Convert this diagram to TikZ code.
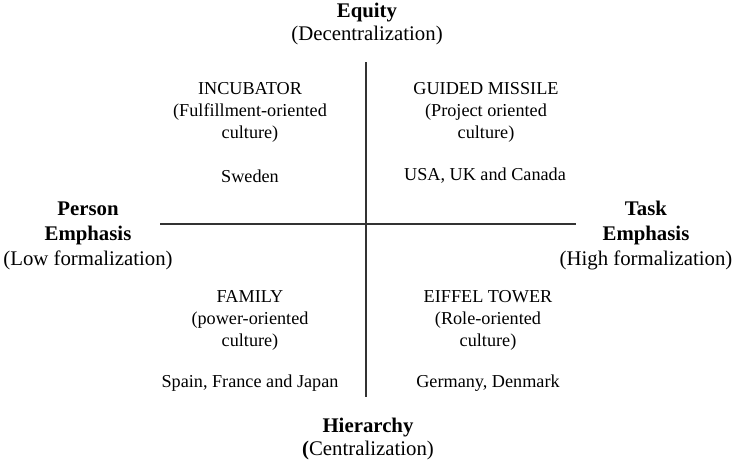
\documentclass[tikz,border=0pt]{standalone}
\usepackage{fontspec}
\setmainfont{Liberation Serif}

\begin{document}
\begin{tikzpicture}[x=1pt,y=-1pt,
  axislabel/.style={align=center,inner sep=0pt,font=\fontsize{20.8}{25}\selectfont},
  polelabel/.style={align=center,inner sep=0pt,font=\fontsize{20.8}{22.5}\selectfont},
  quadtext/.style={align=center,inner sep=0pt,font=\fontsize{18.2}{22}\selectfont}]
    \useasboundingbox (0,0) rectangle (736,463);
    % axes
    \coordinate (top) at (366,62);
    \coordinate (bottom) at (366,397);
    \coordinate (left) at (160,224);
    \coordinate (right) at (576,224);
    \draw[black!80,line width=1.6pt] (top) -- (bottom);
    \draw[black!80,line width=1.6pt] (left) -- (right);
    % pole labels
    \node[polelabel] (equity) at (367,24) {\textbf{Equity}\\(Decentralization)};
    \node[polelabel] (hierarchy) at (368,439) {\textbf{Hierarchy}\\\textbf{(}Centralization)};
    \node[axislabel] (person) at (88,236) {\textbf{Person}\\\textbf{Emphasis}\\(Low formalization)};
    \node[axislabel] (task) at (646,236) {\textbf{Task}\\\textbf{Emphasis}\\(High formalization)};
    % quadrants
    \node[quadtext] (incubator) at (250,112) {INCUBATOR\\(Fulfillment-oriented\\culture)};
    \node[quadtext] (sweden) at (250,176) {Sweden};
    \node[quadtext] (missile) at (486,112) {GUIDED MISSILE\\(Project oriented\\culture)};
    \node[quadtext] (usa) at (485,176) {USA, UK and Canada};
    \node[quadtext] (family) at (250,320) {FAMILY\\(power-oriented\\culture)};
    \node[quadtext] (spain) at (250,383) {Spain, France and Japan};
    \node[quadtext] (eiffel) at (488,320) {EIFFEL TOWER\\(Role-oriented\\culture)};
    \node[quadtext] (germany) at (488,383) {Germany, Denmark};
\end{tikzpicture}
\end{document}
